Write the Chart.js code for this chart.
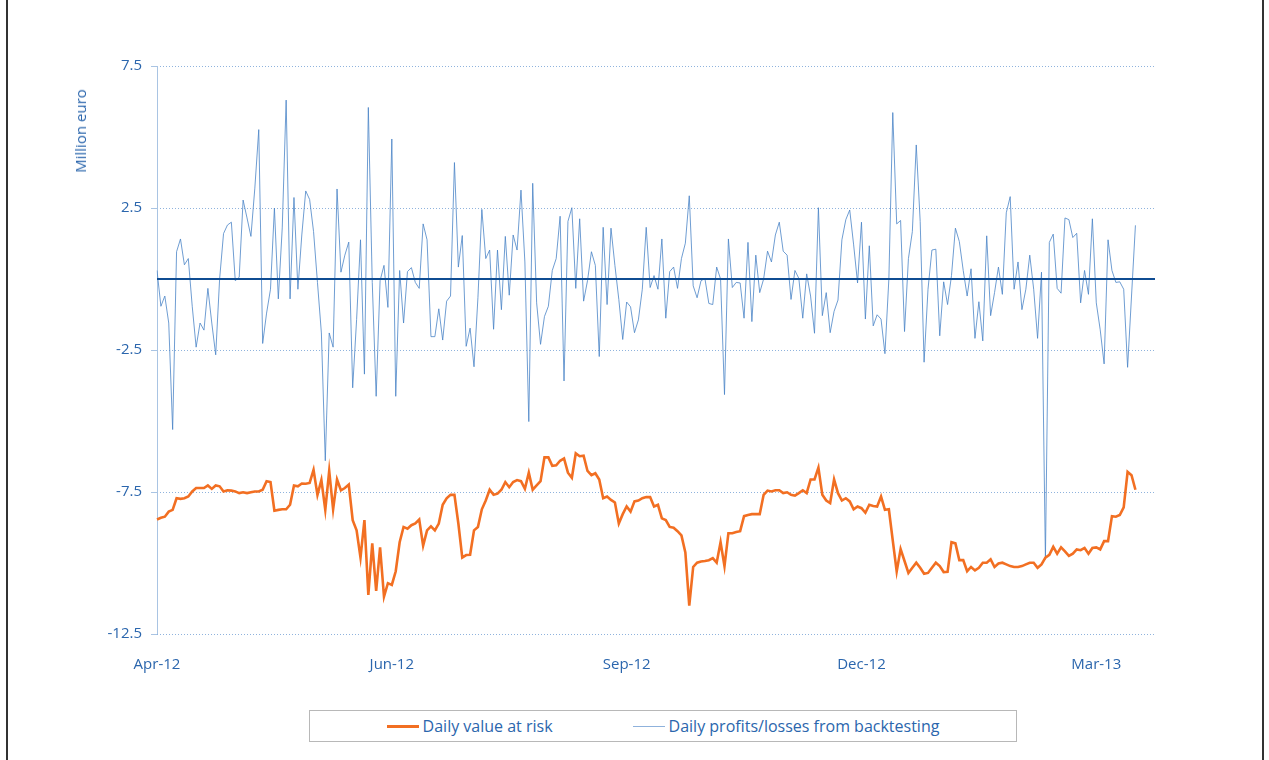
<!DOCTYPE html>
<html>
<head>
<meta charset="utf-8">
<script src="https://cdn.jsdelivr.net/npm/chart.js@4.4.1/dist/chart.umd.min.js"></script>
<style>
  body { margin: 0; background: #fff; font-family: 'Open Sans', 'Noto Sans', sans-serif; }
  #page { position: relative; width: 1269px; height: 760px; overflow: hidden; }
  #frameL, #frameR { position: absolute; top: 0; bottom: 0; width: 2px; background: #333; }
  #frameL { left: 6px; }
  #frameR { left: 1262px; }
  #chartBox { position: absolute; left: 0; top: 0; }
  #ytitle {
    position: absolute; left: 80px; top: 131px; color: #2b66ad; font-size: 15px;
    transform: translate(-50%, -50%) rotate(-90deg); white-space: nowrap;
  }
  #legend {
    position: absolute; left: 309px; top: 710px; width: 706px; height: 30px;
    border: 1px solid #b8b8b8; display: flex; align-items: center; justify-content: center; gap: 80px;
    color: #2b66ad; font-size: 16px;
  }
  #legend .item { display: flex; align-items: center; }
  #legend .swatch { display: inline-block; width: 32px; margin-right: 4px; }
</style>
</head>
<body>
<div id="page">
  <div id="frameL"></div>
  <div id="frameR"></div>
  <div id="chartBox"><canvas id="risk-chart" width="1269" height="690"></canvas></div>
  <div id="ytitle">Million euro</div>
  <div id="legend"></div>
</div>
<script>
// Axis labels (one label every 60 trading days)
const tickLabels = ['Apr-12', 'Jun-12', 'Sep-12', 'Dec-12', 'Mar-13'];
const tickEvery = 60;
const categoryCount = 256;

// Daily value at risk (million euro)
const varValues = [
  -8.47, -8.41, -8.37, -8.19, -8.13, -7.72, -7.74, -7.72, -7.66, -7.48, -7.36, -7.36, -7.36, -7.27, -7.39, -7.27,
  -7.3, -7.48, -7.44, -7.45, -7.48, -7.54, -7.51, -7.54, -7.51, -7.48, -7.48, -7.42, -7.12, -7.15, -8.16, -8.13,
  -8.11, -8.11, -7.95, -7.27, -7.3, -7.2, -7.21, -7.18, -6.72, -7.6, -7.08, -8.13, -6.76, -8.11, -7.06, -7.44,
  -7.36, -7.24, -8.49, -8.85, -9.81, -8.49, -11.12, -9.31, -10.98, -9.45, -11.18, -10.71, -10.77, -10.29, -9.27, -8.73,
  -8.79, -8.67, -8.61, -8.47, -9.39, -8.85, -8.71, -8.85, -8.61, -7.95, -7.72, -7.6, -7.6, -8.61, -9.81, -9.72,
  -9.71, -8.85, -8.73, -8.11, -7.8, -7.42, -7.6, -7.56, -7.42, -7.15, -7.33, -7.15, -7.08, -7.12, -7.39, -6.82,
  -7.42, -7.27, -7.12, -6.28, -6.28, -6.58, -6.56, -6.4, -6.32, -6.82, -7.0, -6.14, -6.24, -6.22, -6.76, -6.91,
  -6.84, -7.06, -7.72, -7.66, -7.78, -7.87, -8.61, -8.28, -8.01, -8.19, -7.83, -7.8, -7.72, -7.68, -7.68, -8.01,
  -7.95, -8.43, -8.49, -8.73, -8.76, -8.88, -9.03, -9.63, -11.5, -10.14, -9.99, -9.95, -9.93, -9.9, -9.83, -9.99,
  -9.27, -10.11, -8.95, -8.95, -8.91, -8.88, -8.35, -8.31, -8.28, -8.28, -8.28, -7.6, -7.45, -7.48, -7.44,
  -7.44, -7.54, -7.51, -7.6, -7.63, -7.54, -7.44, -7.54, -7.06, -7.06, -6.64, -7.6, -7.8, -7.89, -7.06, -7.54,
  -7.8, -7.72, -7.83, -8.11, -8.01, -8.07, -8.23, -7.95, -7.99, -8.01, -7.66, -8.13, -8.11, -9.21, -10.3, -9.51,
  -9.93, -10.35, -10.17, -9.99, -10.17, -10.38, -10.35, -10.17, -9.99, -10.11, -10.32, -10.31, -9.27, -9.31, -9.9, -9.9,
  -10.29, -10.14, -10.26, -10.17, -9.99, -9.99, -9.87, -10.14, -10.02, -9.99, -10.05, -10.11, -10.14, -10.14, -10.11, -10.05,
  -9.99, -9.99, -10.17, -10.05, -9.81, -9.71, -9.43, -9.67, -9.45, -9.59, -9.75, -9.67, -9.52, -9.55,
  -9.47, -9.67, -9.47, -9.45, -9.52, -9.23, -9.23, -8.35, -8.37, -8.31, -8.04, -6.79, -6.91, -7.42
];

// Daily profits/losses from backtesting (million euro)
const pnlValues = [
  0.3, -0.96, -0.6, -1.55, -5.3, 0.96, 1.41, 0.5, 0.72, -0.96, -2.4, -1.55, -1.8, -0.33, -1.55, -2.67,
  0, 1.6, 1.9, 2.0, -0.06, 0.06, 2.78, 2.15, 1.5, 3.2, 5.26, -2.27, -1.2, -0.36, 2.5, -0.7,
  1.8, 6.3, -0.7, 2.87, -0.36, 1.55, 3.1, 2.8, 1.67, -0.12, -1.9, -6.4, -1.9, -2.4, 3.17, 0.24,
  0.84, 1.3, -3.83, -1.43, 1.38, -3.35, 6.04, -0.12, -4.13, -0.06, 0.48, -1.0, 4.93, -4.13, 0.3, -1.55,
  0.26, 0.4, -0.12, -0.33, 1.94, 1.38, -2.03, -2.03, -1.05, -2.15, -0.78, -0.6, 4.1, 0.42, 1.53, -2.37,
  -1.73, -3.09, -0.66, 2.45, 0.72, 1.02, -1.77, 1.02, -1.08, 1.5, -0.57, 1.55, 1.02, 3.13, 0.6, -5.02,
  3.37, -0.84, -2.3, -1.32, -0.96, 0.3, 0.72, 2.21, -3.59, 2.03, 2.51, -0.33, 2.12, -0.78, -0.06, 0.96,
  0.48, -2.73, 1.82, -0.9, 1.79, 0.48, -0.72, -2.13, -0.81, -0.98, -1.89, -1.44, -0.36, 1.82, -0.3, 0.12,
  -0.36, 1.41, -1.38, 0.26, 0.42, -0.33, 0.72, 1.26, 2.93, -0.24, -0.66, -0.06, 0.02, -0.86, -0.9, 0.42,
  0, -4.07, 1.41, -0.3, -0.12, -0.14, -1.38, 1.29, -1.5, 0.84, -0.48, 0, 0.98, 0.6, 1.55,
  2.0, 0.98, 0.84, -0.72, 0.3, 0.02, -1.38, 0.18, -0.6, -1.91, 2.51, -1.29, -0.48, -1.89, -1.14, -0.74,
  1.38, 2.09, 2.43, 1.2, -0.14, 2.0, -1.41, 1.17, -1.65, -1.26, -1.41, -2.63, 0, 5.86, 1.94, 2.06,
  -1.85, 0.72, 1.67, 4.72, 2.03, -2.93, -0.36, 1.02, 1.05, -2.0, -0.1, -0.9, 0.12, 1.79, 1.32, 0.3,
  -0.6, 0.36, -2.09, -0.8, -2.18, 1.52, -1.29, -0.48, 0.42, -0.54, 2.33, 2.9, -0.36, 0.6, -1.08, -0.36,
  0.84, -0.36, -2.09, 0.24, -9.87, 1.29, 1.58, -0.33, -0.5, 2.15, 2.09, 1.46, 1.61, -0.84,
  0.3, -0.54, 2.12, -0.84, -1.79, -2.99, 1.38, 0.3, -0.12, -0.1, -0.36, -3.11, -0.6, 1.89
];

const yTicks = { min: -12.5, max: 7.5, step: 5 };

// category axis: one slot per trading day, month label every 60 days
const categories = [];
for (let i = 0; i < categoryCount; i++) {
  categories.push(i % tickEvery === 0 ? (tickLabels[i / tickEvery] || '') : '');
}

const blueText = '#2b66ad';
const gridBlue = '#8fb3dd';
const axisBlue = '#a9c4e3';

// solid y axis line on the left and solid line at zero
const axisLines = {
  id: 'axisLines',
  beforeDatasetsDraw(chart) {
    const ctx = chart.ctx;
    const x = chart.chartArea.left + 0.5;
    ctx.save();
    ctx.strokeStyle = axisBlue;
    ctx.lineWidth = 1;
    ctx.beginPath();
    ctx.moveTo(x, chart.chartArea.top);
    ctx.lineTo(x, chart.chartArea.bottom);
    ctx.stroke();
    ctx.restore();
  },
  afterDatasetsDraw(chart) {
    const ctx = chart.ctx;
    const y = chart.scales.y.getPixelForValue(0);
    ctx.save();
    ctx.strokeStyle = '#0f4c92';
    ctx.lineWidth = 2;
    ctx.beginPath();
    ctx.moveTo(chart.chartArea.left, y);
    ctx.lineTo(chart.chartArea.right, y);
    ctx.stroke();
    ctx.restore();
  }
};

var ctx = document.getElementById('risk-chart').getContext('2d');
var riskChart = new Chart(ctx, {
  type: 'line',
  data: {
    labels: categories,
    datasets: [{
      label: 'Daily value at risk',
      data: varValues,
      borderColor: '#f26f22',
      borderWidth: 2.6,
      pointRadius: 0,
      tension: 0
    }, {
      label: 'Daily profits/losses from backtesting',
      data: pnlValues,
      borderColor: '#4a84c6',
      borderWidth: 0.8,
      pointRadius: 0,
      tension: 0
    }]
  },
  options: {
    responsive: false,
    animation: false,
    layout: { padding: { left: 72, right: 114, top: 66, bottom: 16 } },
    plugins: { legend: { display: false }, tooltip: { enabled: false } },
    scales: {
      x: {
        grid: { display: false },
        border: { display: false },
        ticks: {
          autoSkip: false, maxRotation: 0, padding: 14,
          color: blueText, font: { family: "'Open Sans', sans-serif", size: 15 }
        },
        afterFit(scale) { scale.height = 40; }
      },
      y: {
        min: yTicks.min,
        max: yTicks.max,
        ticks: {
          stepSize: yTicks.step, padding: 9,
          color: blueText, font: { family: "'Open Sans', sans-serif", size: 15 },
          callback: v => v.toString()
        },
        grid: {
          color: gridBlue, tickLength: 6,
          tickColor: axisBlue, tickBorderDash: []
        },
        border: { display: false, dash: [1, 2] },
        afterFit(scale) { scale.width = 85; }
      }
    }
  },
  plugins: [axisLines]
});

// boxed legend under the chart
const legendBox = document.getElementById('legend');
riskChart.data.datasets.forEach(ds => {
  const item = document.createElement('div');
  item.className = 'item';
  const swatch = document.createElement('span');
  swatch.className = 'swatch';
  swatch.style.height = Math.max(1, Math.round(ds.borderWidth)) + 'px';
  swatch.style.background = ds.borderWidth < 1 ? '#8fb2dc' : ds.borderColor;
  const text = document.createElement('span');
  text.textContent = ds.label;
  item.appendChild(swatch);
  item.appendChild(text);
  legendBox.appendChild(item);
});
</script>
</body>
</html>
